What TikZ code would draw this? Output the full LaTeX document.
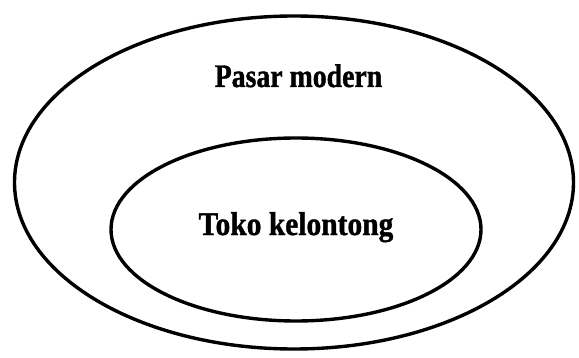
\documentclass[tikz,border=0pt]{standalone}
\usepackage{fontspec}
\usepackage{graphicx}
\setmainfont{Liberation Serif}
\newfontfamily\heavyserif[FakeBold=1.2]{Liberation Serif Bold}
\begin{document}
\begin{tikzpicture}[x=1pt,y=1pt,
  ring/.style={draw=black,line width=3.4pt},
  lbl/.style={inner sep=0pt,anchor=base}]
\useasboundingbox (0,0) rectangle (579,357);
\draw[ring] (294,174.5) ellipse [x radius=279.5, y radius=166.5];
\draw[ring] (296,127.5) ellipse [x radius=185, y radius=91.5];
\node[lbl,font=\heavyserif\fontsize{27.8}{32}\selectfont] (outer) at (298.5,270) {\scalebox{1}[1.18]{Pasar modern}};
\node[lbl,font=\heavyserif\fontsize{29.5}{34}\selectfont] (inner) at (296,122) {\scalebox{1}[1.12]{Toko kelontong}};
\end{tikzpicture}
\end{document}
